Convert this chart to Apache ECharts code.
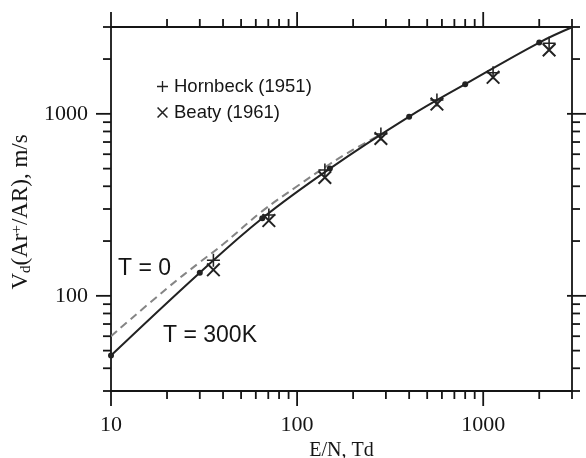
<!DOCTYPE html>
<html>
<head>
<meta charset="utf-8">
<script src="https://cdn.jsdelivr.net/npm/echarts@6/dist/echarts.min.js"></script>
<style>
html,body{margin:0;padding:0;background:#fff;}
#chart{width:586px;height:458px;}
</style>
</head>
<body>
<div id="chart"></div>
<script>
// ---- data ----
const X_MIN = 10, X_MAX = 3000, Y_MIN = 30, Y_MAX = 3000;

// T = 300K calculation (solid line, dots)
const t300X = [10, 30, 65, 150, 400, 800, 2000, 3000];
const t300Y = [47, 134, 267, 500, 965, 1455, 2465, 2990];
const t300Dots = [true, true, true, true, true, true, true, false];

// T = 0 calculation (dashed line)
const t0X = [10, 20, 30, 40, 65, 100, 150, 200, 285];
const t0Y = [60, 110, 153, 192, 292, 400, 530, 635, 775];

// Hornbeck (1951) measurements (+)
const hornX = [35.5, 70.5, 141, 282, 564, 1130, 2260];
const hornY = [157, 278, 491, 775, 1190, 1683, 2442];

// Beaty (1961) measurements (x)
const beatyX = [35.5, 70.5, 141, 282, 564, 1130, 2260];
const beatyY = [139, 259, 447, 732, 1132, 1587, 2243];

// axis ticks
const xTickMajor = [10, 100, 1000];
const xTickMinor = [20, 30, 40, 50, 60, 70, 80, 90, 200, 300, 400, 500, 600, 700, 800, 900, 2000, 3000];
const yTickMajor = [100, 1000];
const yTickMinor = [30, 40, 50, 60, 70, 80, 90, 200, 300, 400, 500, 600, 700, 800, 900, 2000, 3000];
const xTickLabels = [10, 100, 1000];
const yTickLabels = [100, 1000];

// ---- build options ----
const PLUS = 'path://M0,44 H100 V56 H0 Z M44,0 H56 V100 H44 Z';
const CROSS = 'path://M0,10 L10,0 L100,90 L90,100 Z M90,0 L100,10 L10,100 L0,90 Z';
const INK = '#151515';

const t300Data = t300X.map((x, i) => t300Dots[i]
  ? [x, t300Y[i]]
  : { value: [x, t300Y[i]], symbol: 'none' });
const t0Data = t0X.map((x, i) => [x, t0Y[i]]);
const hornData = hornX.map((x, i) => [x, hornY[i]]);
const beatyData = beatyX.map((x, i) => [x, beatyY[i]]);

const tickData = []
  .concat(xTickMajor.map(v => [v, Y_MIN, 0, 1]))
  .concat(xTickMinor.map(v => [v, Y_MIN, 0, 0]))
  .concat(yTickMajor.map(v => [X_MIN, v, 1, 1]))
  .concat(yTickMinor.map(v => [X_MIN, v, 1, 0]));

function renderTick(params, api) {
  const isY = api.value(2) === 1;
  const major = api.value(3) === 1;
  const len = major ? 15 : 8;
  const st = { stroke: INK, lineWidth: 1.8 };
  if (!isY) {
    const v = api.value(0);
    const b = api.coord([v, Y_MIN]);
    const t = api.coord([v, Y_MAX]);
    return { type: 'group', children: [
      { type: 'line', shape: { x1: b[0], y1: b[1], x2: b[0], y2: b[1] + len }, style: st },
      { type: 'line', shape: { x1: t[0], y1: t[1], x2: t[0], y2: t[1] - len }, style: st }
    ]};
  }
  const v = api.value(1);
  const l = api.coord([X_MIN, v]);
  const r = api.coord([X_MAX, v]);
  return { type: 'group', children: [
    { type: 'line', shape: { x1: l[0], y1: l[1], x2: l[0] - len, y2: l[1] }, style: st },
    { type: 'line', shape: { x1: r[0] - (major ? 5 : 0), y1: r[1], x2: r[0] + len, y2: r[1] }, style: st }
  ]};
}

const serif = '"Liberation Serif", "Times New Roman", serif';
const sans = '"Liberation Sans", Arial, sans-serif';

const chart = echarts.init(document.getElementById('chart'), null, { renderer: 'canvas' });
chart.setOption({
  animation: false,
  backgroundColor: '#fff',
  grid: {
    left: 111, right: 14, top: 27, bottom: 67,
    containLabel: false, outerBoundsMode: 'none',
    show: true, borderColor: INK, borderWidth: 1.8, backgroundColor: 'transparent'
  },
  legend: {
    orient: 'vertical',
    left: 152, top: 72,
    itemWidth: 11, itemHeight: 11, itemGap: 7,
    data: ['Hornbeck (1951)', 'Beaty (1961)'],
    itemStyle: { opacity: 1 },
    textStyle: { fontFamily: sans, fontSize: 18.5, color: INK, padding: [0, 0, 0, 1] }
  },
  xAxis: {
    type: 'log', logBase: 10, min: X_MIN, max: X_MAX,
    axisLine: { show: false }, axisTick: { show: false },
    splitLine: { show: false }, minorTick: { show: false },
    axisLabel: {
      margin: 23, fontFamily: serif, fontSize: 22, color: INK,
      formatter: v => xTickLabels.some(t => Math.abs(t - v) < 1e-6 * t) ? String(Math.round(v)) : ''
    },
    name: 'E/N, Td', nameLocation: 'middle', nameGap: 40,
    nameTextStyle: { fontFamily: serif, fontSize: 20, color: INK }
  },
  yAxis: {
    type: 'log', logBase: 10, min: Y_MIN, max: Y_MAX,
    axisLine: { show: false }, axisTick: { show: false },
    splitLine: { show: false }, minorTick: { show: false },
    axisLabel: {
      margin: 23, fontFamily: serif, fontSize: 22, color: INK,
      formatter: v => yTickLabels.some(t => Math.abs(t - v) < 1e-6 * t) ? String(Math.round(v)) : ''
    },
    name: '{n|V}{sub|d}{n|(Ar}{sup|+}{n|/AR), m/s}',
    nameLocation: 'middle', nameGap: 74,
    nameTextStyle: {
      fontFamily: serif, fontSize: 23, color: INK,
      padding: [0, 6, 0, 0],
      rich: {
        n: { fontFamily: serif, fontSize: 23, color: INK, verticalAlign: 'middle', lineHeight: 24 },
        sub: { fontFamily: serif, fontSize: 15, color: INK, verticalAlign: 'bottom', lineHeight: 5 },
        sup: { fontFamily: serif, fontSize: 15, color: INK, verticalAlign: 'top', lineHeight: 5 }
      }
    }
  },
  series: [
    {
      name: 'T = 0', type: 'line', data: t0Data, smooth: 0.4, symbol: 'none', clip: false,
      lineStyle: { color: '#858585', width: 2, type: [8, 5] }, z: 2
    },
    {
      name: 'T = 300K', type: 'line', data: t300Data, smooth: 0.4, clip: false,
      symbol: 'circle', symbolSize: 6, showSymbol: true,
      itemStyle: { color: '#222', opacity: 1 },
      lineStyle: { color: '#222', width: 2 }, z: 3
    },
    {
      name: 'Hornbeck (1951)', type: 'scatter', data: hornData, clip: false,
      symbol: PLUS, symbolSize: 13, itemStyle: { color: '#222', opacity: 1 }, z: 4
    },
    {
      name: 'Beaty (1961)', type: 'scatter', data: beatyData, clip: false,
      symbol: CROSS, symbolSize: 14, itemStyle: { color: '#222', opacity: 1 }, z: 4
    },
    {
      name: 'ticks', type: 'custom', data: tickData, renderItem: renderTick,
      clip: false, silent: true, z: 5,
      encode: { x: 0, y: 1 }
    }
  ],
  graphic: [
    { type: 'text', left: 118, top: 257, style: { text: 'T = 0', font: '23px "Liberation Sans", Arial, sans-serif', fill: INK } },
    { type: 'text', left: 163, top: 324, style: { text: 'T = 300K', font: '23px "Liberation Sans", Arial, sans-serif', fill: INK } }
  ]
});
</script>
</body>
</html>
